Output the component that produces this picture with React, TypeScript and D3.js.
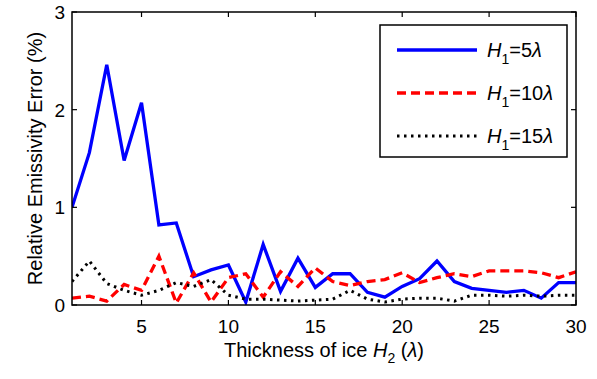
import * as d3 from "d3";
import { useEffect, useRef } from "react";

const thickness = d3.range(1, 31);
const h5 = [1.0, 1.56, 2.46, 1.48, 2.07, 0.82, 0.84, 0.29, 0.36, 0.41, 0.03, 0.62, 0.14, 0.48, 0.18, 0.32, 0.32, 0.13, 0.08, 0.19, 0.27, 0.45, 0.24, 0.17, 0.15, 0.13, 0.15, 0.07, 0.23, 0.23];
const h10 = [0.07, 0.09, 0.04, 0.21, 0.15, 0.5, 0.02, 0.33, 0.03, 0.28, 0.32, 0.08, 0.34, 0.19, 0.38, 0.24, 0.2, 0.24, 0.26, 0.33, 0.23, 0.28, 0.32, 0.29, 0.35, 0.35, 0.35, 0.33, 0.28, 0.34];
const h15 = [0.24, 0.45, 0.22, 0.15, 0.1, 0.15, 0.23, 0.19, 0.26, 0.1, 0.06, 0.06, 0.05, 0.04, 0.05, 0.06, 0.15, 0.06, 0.03, 0.06, 0.07, 0.07, 0.04, 0.1, 0.1, 0.09, 0.1, 0.09, 0.1, 0.1];
const xTicks = [5, 10, 15, 20, 25, 30];
const yTicks = [0, 1, 2, 3];

const seriesList = [
    { name: "5", values: h5, color: "#0000ff", dash: "none", width: 3.3 },
    { name: "10", values: h10, color: "#ff0000", dash: "9,5", width: 3.3 },
    { name: "15", values: h15, color: "#000000", dash: "2.5,4.5", width: 3 },
];

function drawChart(svgElement: SVGSVGElement) {
    const svg = d3.select(svgElement);
    svg.selectAll("*").remove();

    const margin = { top: 12, right: 21, bottom: 74, left: 72 };
    const width = 597 - margin.left - margin.right;
    const height = 379 - margin.top - margin.bottom;
    const font = "'Liberation Sans', Arial, sans-serif";

    const chart = svg.append("g").attr("transform", `translate(${margin.left},${margin.top})`);

    const x = d3.scaleLinear().domain([1, 30]).range([0, width]);
    const y = d3.scaleLinear().domain([0, 3]).range([height, 0]);

    const line = d3
        .line<number>()
        .x((_, i) => x(thickness[i]))
        .y((d) => y(d));

    const clip = svg.append("clipPath").attr("id", "plot-clip");
    clip.append("rect").attr("x", 0).attr("y", -2).attr("width", width).attr("height", height + 2);

    seriesList.forEach((s) => {
        chart
            .append("path")
            .datum(s.values)
            .attr("d", line)
            .attr("fill", "none")
            .attr("stroke", s.color)
            .attr("stroke-width", s.width)
            .attr("stroke-dasharray", s.dash)
            .attr("stroke-linejoin", "miter")
            .attr("clip-path", "url(#plot-clip)");
    });

    // ticks inside, on all four sides
    const tickLen = 5;
    xTicks.forEach((t) => {
        chart.append("line").attr("x1", x(t)).attr("x2", x(t)).attr("y1", height).attr("y2", height - tickLen).attr("stroke", "#000").attr("stroke-width", 1.2);
        chart.append("line").attr("x1", x(t)).attr("x2", x(t)).attr("y1", 0).attr("y2", tickLen).attr("stroke", "#000").attr("stroke-width", 1.2);
        chart
            .append("text")
            .attr("x", x(t))
            .attr("y", height + 28)
            .attr("text-anchor", "middle")
            .style("font-family", font)
            .style("font-size", "19px")
            .text(t);
    });
    yTicks.forEach((t) => {
        chart.append("line").attr("x1", 0).attr("x2", tickLen).attr("y1", y(t)).attr("y2", y(t)).attr("stroke", "#000").attr("stroke-width", 1.2);
        chart.append("line").attr("x1", width).attr("x2", width - tickLen).attr("y1", y(t)).attr("y2", y(t)).attr("stroke", "#000").attr("stroke-width", 1.2);
        chart
            .append("text")
            .attr("x", -7)
            .attr("y", y(t) + 7)
            .attr("text-anchor", "end")
            .style("font-family", font)
            .style("font-size", "19px")
            .text(t);
    });

    // frame
    chart
        .append("rect")
        .attr("width", width)
        .attr("height", height)
        .attr("fill", "none")
        .attr("stroke", "#000")
        .attr("stroke-width", 1.5);

    // axis labels
    const xl = chart
        .append("text")
        .attr("x", width / 2)
        .attr("y", height + 52)
        .attr("text-anchor", "middle")
        .style("font-family", font)
        .style("font-size", "20px");
    xl.append("tspan").text("Thickness of ice ");
    xl.append("tspan").style("font-style", "italic").text("H");
    xl.append("tspan").attr("dy", 6).style("font-size", "14px").text("2");
    xl.append("tspan").attr("dy", -6).text(" (");
    xl.append("tspan").style("font-style", "italic").text("λ");
    xl.append("tspan").text(")");

    chart
        .append("text")
        .attr("transform", `translate(-30, ${height / 2}) rotate(-90)`)
        .attr("text-anchor", "middle")
        .style("font-family", font)
        .style("font-size", "20px")
        .text("Relative Emissivity Error (%)");

    // legend
    const lg = svg.append("g").attr("transform", "translate(380,25)");
    lg.append("rect").attr("width", 187).attr("height", 132).attr("fill", "#fff").attr("stroke", "#000").attr("stroke-width", 1.5);
    seriesList.forEach((s, i) => {
        const ly = 25 + i * 43;
        lg.append("line")
            .attr("x1", 17)
            .attr("x2", 97)
            .attr("y1", ly)
            .attr("y2", ly)
            .attr("stroke", s.color)
            .attr("stroke-width", s.width)
            .attr("stroke-dasharray", s.dash);
        const t = lg
            .append("text")
            .attr("x", 107)
            .attr("y", ly + 7)
            .style("font-family", font)
            .style("font-size", "20px");
        t.append("tspan").style("font-style", "italic").text("H");
        t.append("tspan").attr("dy", 7).style("font-size", "14px").text("1");
        t.append("tspan").attr("dy", -7).text(`=${s.name}`);
        t.append("tspan").style("font-style", "italic").text("λ");
    });
}

export default function App() {
    const ref = useRef<SVGSVGElement | null>(null);

    useEffect(() => {
        if (ref.current) drawChart(ref.current);
    }, []);

    return (
        <svg
            ref={ref}
            width={597}
            height={379}
            style={{ position: "absolute", left: 0, top: 0, background: "#fff" }}
        ></svg>
    );
}
